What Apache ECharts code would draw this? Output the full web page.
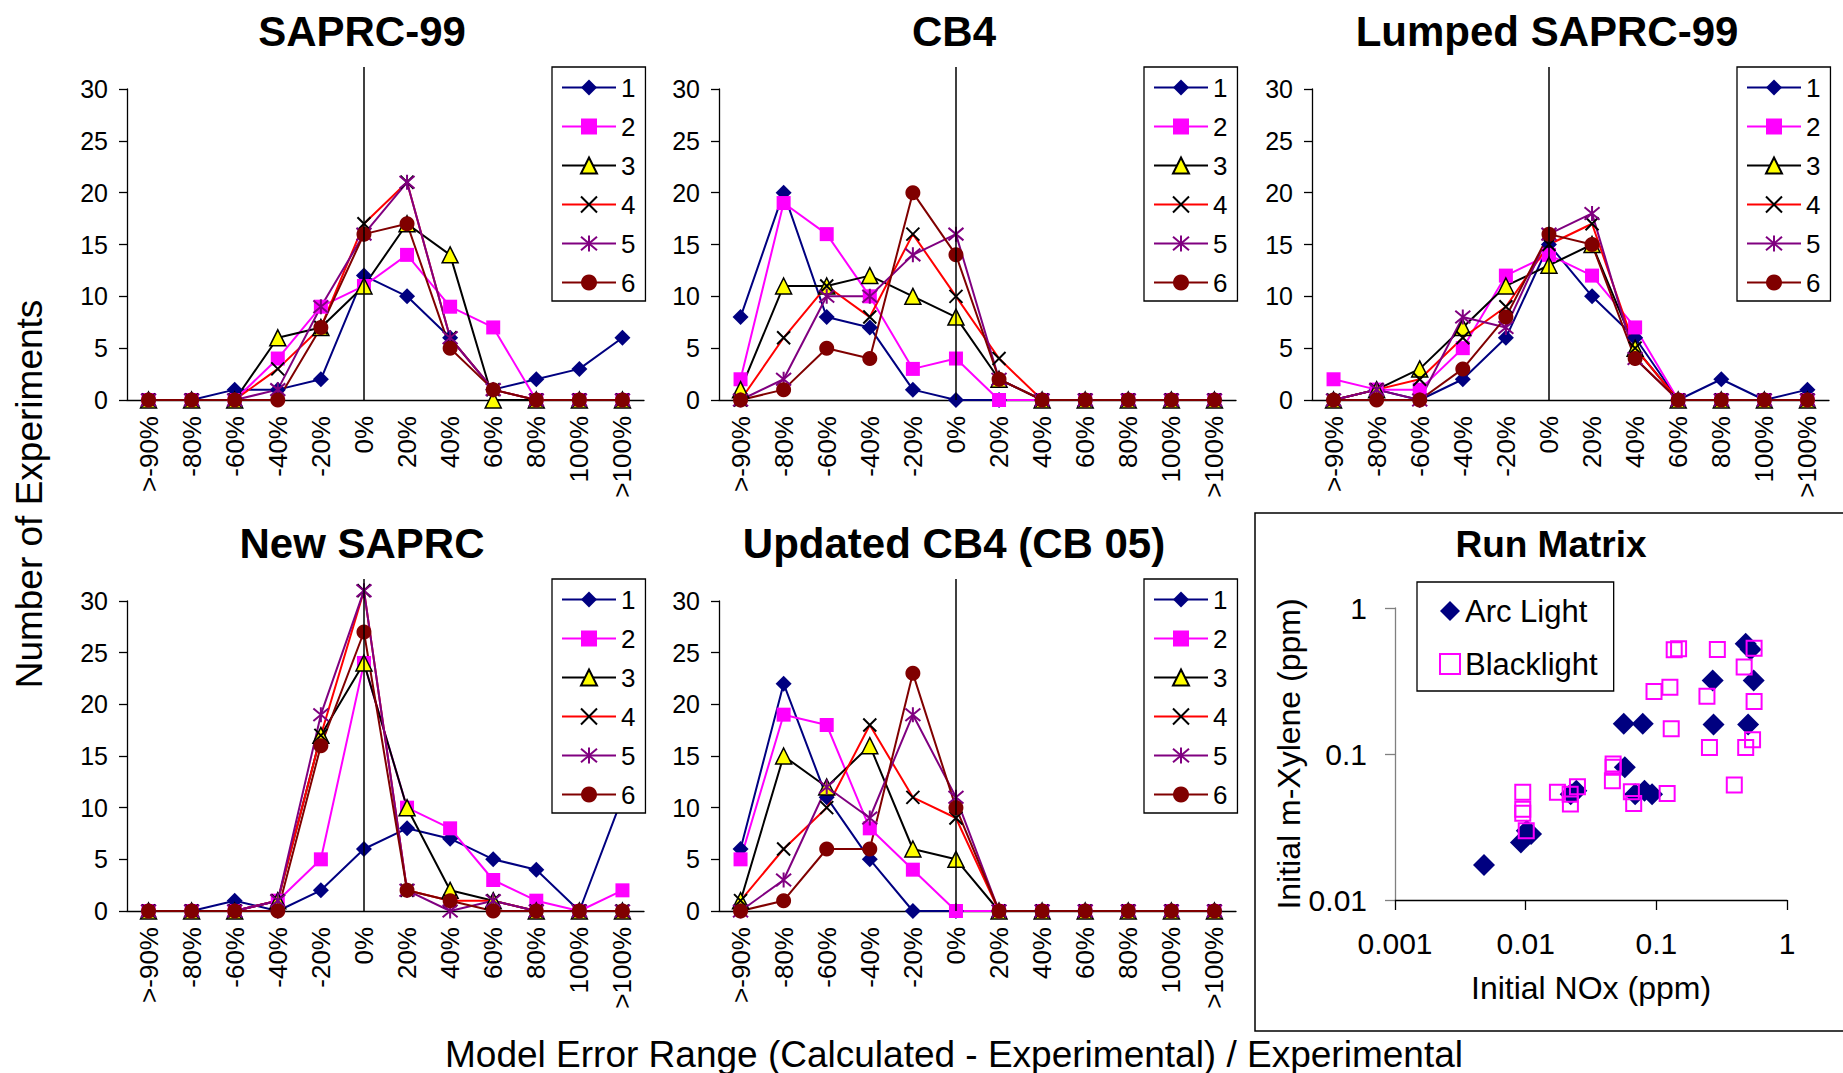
<!DOCTYPE html>
<html>
<head>
<meta charset="utf-8">
<script src="https://cdn.jsdelivr.net/npm/echarts@6/dist/echarts.min.js"></script>
<style>
  html, body { margin: 0; padding: 0; background: #fff; }
  #main { width: 1843px; height: 1073px; }
</style>
</head>
<body>
<div id="main"></div>
<script>
  // error range bins
  var categories = ['>-90%', '-80%', '-60%', '-40%', '-20%', '0%', '20%', '40%', '60%', '80%', '100%', '>100%'];
  var seriesNames = ['1', '2', '3', '4', '5', '6'];

  // SAPRC-99
  var saprc99_1 = [0, 0, 1, 1, 2, 12, 10, 6, 1, 2, 3, 6];
  var saprc99_2 = [0, 0, 0, 4, 9, 11, 14, 9, 7, 0, 0, 0];
  var saprc99_3 = [0, 0, 0, 6, 7, 11, 17, 14, 0, 0, 0, 0];
  var saprc99_4 = [0, 0, 0, 3, 7, 17, 21, 6, 1, 0, 0, 0];
  var saprc99_5 = [0, 0, 0, 1, 9, 16, 21, 6, 1, 0, 0, 0];
  var saprc99_6 = [0, 0, 0, 0, 7, 16, 17, 5, 1, 0, 0, 0];

  // CB4
  var cb4_1 = [8, 20, 8, 7, 1, 0, 0, 0, 0, 0, 0, 0];
  var cb4_2 = [2, 19, 16, 10, 3, 4, 0, 0, 0, 0, 0, 0];
  var cb4_3 = [1, 11, 11, 12, 10, 8, 2, 0, 0, 0, 0, 0];
  var cb4_4 = [0, 6, 11, 8, 16, 10, 4, 0, 0, 0, 0, 0];
  var cb4_5 = [0, 2, 10, 10, 14, 16, 2, 0, 0, 0, 0, 0];
  var cb4_6 = [0, 1, 5, 4, 20, 14, 2, 0, 0, 0, 0, 0];

  // Lumped SAPRC-99
  var lumped_1 = [0, 1, 0, 2, 6, 15, 10, 6, 0, 2, 0, 1];
  var lumped_2 = [2, 1, 1, 5, 12, 14, 12, 7, 0, 0, 0, 0];
  var lumped_3 = [0, 1, 3, 7, 11, 13, 15, 5, 0, 0, 0, 0];
  var lumped_4 = [0, 1, 2, 6, 9, 15, 17, 5, 0, 0, 0, 0];
  var lumped_5 = [0, 1, 0, 8, 7, 16, 18, 4, 0, 0, 0, 0];
  var lumped_6 = [0, 0, 0, 3, 8, 16, 15, 4, 0, 0, 0, 0];

  // New SAPRC
  var newSaprc_1 = [0, 0, 1, 0, 2, 6, 8, 7, 5, 4, 0, 11];
  var newSaprc_2 = [0, 0, 0, 1, 5, 24, 10, 8, 3, 1, 0, 2];
  var newSaprc_3 = [0, 0, 0, 1, 17, 24, 10, 2, 1, 0, 0, 0];
  var newSaprc_4 = [0, 0, 0, 1, 17, 31, 2, 1, 1, 0, 0, 0];
  var newSaprc_5 = [0, 0, 0, 1, 19, 31, 2, 0, 1, 0, 0, 0];
  var newSaprc_6 = [0, 0, 0, 0, 16, 27, 2, 1, 0, 0, 0, 0];

  // Updated CB4 (CB 05)
  var cb05_1 = [6, 22, 11, 5, 0, 0, 0, 0, 0, 0, 0, 0];
  var cb05_2 = [5, 19, 18, 8, 4, 0, 0, 0, 0, 0, 0, 0];
  var cb05_3 = [1, 15, 12, 16, 6, 5, 0, 0, 0, 0, 0, 0];
  var cb05_4 = [1, 6, 10, 18, 11, 9, 0, 0, 0, 0, 0, 0];
  var cb05_5 = [0, 3, 12, 9, 19, 11, 0, 0, 0, 0, 0, 0];
  var cb05_6 = [0, 1, 6, 6, 23, 10, 0, 0, 0, 0, 0, 0];

  // run matrix [initial NOx, initial m-xylene] (ppm)
  var arcLight = [[0.0048, 0.0174], [0.0092, 0.0248], [0.011, 0.0283], [0.0102, 0.0298], [0.0221, 0.0531],
    [0.0244, 0.056], [0.0563, 0.161], [0.0787, 0.161], [0.0574, 0.081], [0.0688, 0.0531], [0.0812, 0.056],
    [0.0928, 0.0531], [0.27, 0.319], [0.274, 0.159], [0.483, 0.569], [0.526, 0.52], [0.556, 0.319], [0.504, 0.159]];
  var blacklight = [[0.0095, 0.0546], [0.0095, 0.0419], [0.0095, 0.0393], [0.0101, 0.0298], [0.0175, 0.0546],
    [0.0219, 0.0531], [0.022, 0.0454], [0.0249, 0.0597], [0.0467, 0.0854], [0.0461, 0.0656], [0.0467, 0.081],
    [0.0644, 0.0551], [0.0671, 0.0459], [0.121, 0.0536], [0.096, 0.268], [0.127, 0.287], [0.137, 0.518],
    [0.148, 0.526], [0.13, 0.149], [0.293, 0.52], [0.244, 0.249], [0.255, 0.111], [0.395, 0.0613],
    [0.47, 0.394], [0.56, 0.53], [0.56, 0.229], [0.545, 0.125], [0.483, 0.111]];

  var panels = [
    {title: 'SAPRC-99', data: [saprc99_1, saprc99_2, saprc99_3, saprc99_4, saprc99_5, saprc99_6]},
    {title: 'CB4', data: [cb4_1, cb4_2, cb4_3, cb4_4, cb4_5, cb4_6]},
    {title: 'Lumped SAPRC-99', data: [lumped_1, lumped_2, lumped_3, lumped_4, lumped_5, lumped_6]},
    {title: 'New SAPRC', data: [newSaprc_1, newSaprc_2, newSaprc_3, newSaprc_4, newSaprc_5, newSaprc_6]},
    {title: 'Updated CB4 (CB 05)', data: [cb05_1, cb05_2, cb05_3, cb05_4, cb05_5, cb05_6]}
  ];

  // grid boxes of the five line panels
  var boxes = [
    {left: 127, top: 89, width: 517, height: 311},
    {left: 719, top: 89, width: 517, height: 311},
    {left: 1312, top: 89, width: 517, height: 311},
    {left: 127, top: 601, width: 517, height: 310},
    {left: 719, top: 601, width: 517, height: 310}
  ];

  var FONT = 'Liberation Sans, Arial, sans-serif';
  var xMark = 'path://M0,0L10,10M10,0L0,10';
  var starMark = 'path://M0,0L10,10M10,0L0,10M5,-1L5,11';

  var styles = [
    {symbol: 'diamond', size: 16, item: {color: '#000080'}, line: '#000080'},
    {symbol: 'rect', size: 14, item: {color: '#FF00FF'}, line: '#FF00FF'},
    {symbol: 'triangle', size: 16, item: {color: '#FFFF00', borderColor: '#000', borderWidth: 1.5}, line: '#000'},
    {symbol: xMark, size: 13, item: {color: '#000', borderColor: '#000', borderWidth: 2}, line: '#FF0000'},
    {symbol: starMark, size: 15, item: {color: '#800080', borderColor: '#800080', borderWidth: 2}, line: '#800080'},
    {symbol: 'circle', size: 15, item: {color: '#800000'}, line: '#800000'}
  ];

  var grid = [], xAxis = [], yAxis = [], series = [], legend = [], title = [];

  panels.forEach(function (p, k) {
    var b = boxes[k];
    grid.push({left: b.left, top: b.top, width: b.width, height: b.height});
    xAxis.push({
      type: 'category', gridIndex: k, data: categories, boundaryGap: true,
      axisLine: {lineStyle: {color: '#000', width: 1.3}},
      axisTick: {length: 8, lineStyle: {color: '#000', width: 1.3}},
      axisLabel: {rotate: 90, interval: 0, fontSize: 26, margin: 16, color: '#000', fontFamily: FONT}
    });
    yAxis.push({
      type: 'value', gridIndex: k, min: 0, max: 30, interval: 5,
      axisLine: {show: true, lineStyle: {color: '#000', width: 1.3}},
      axisTick: {show: true, length: 8, lineStyle: {color: '#000', width: 1.3}},
      splitLine: {show: false},
      axisLabel: {fontSize: 25, margin: 19, color: '#000', fontFamily: FONT}
    });
    p.data.forEach(function (vals, i) {
      var s = styles[i];
      series.push({
        name: seriesNames[i], type: 'line', xAxisIndex: k, yAxisIndex: k,
        data: vals, clip: false, symbol: s.symbol, symbolSize: s.size,
        itemStyle: s.item, lineStyle: {color: s.line, width: 2},
        animation: false, z: 3
      });
    });
    legend.push({
      orient: 'vertical', left: b.left + 425, top: b.top - 22,
      data: seriesNames, itemWidth: 54, itemHeight: 20, itemGap: 12,
      padding: [7, 10, 5, 9], backgroundColor: '#fff', borderColor: '#000', borderWidth: 1.3,
      textStyle: {fontSize: 26, color: '#000', fontFamily: FONT, lineHeight: 27},
      selectedMode: false, z: 10
    });
    title.push({
      text: p.title, left: b.left + 235, top: b.top - 79, textAlign: 'center', padding: 0,
      textStyle: {fontSize: 42, fontWeight: 'bold', color: '#000', fontFamily: FONT}
    });
  });

  // overlay grids carrying the 0% reference line, a bit taller than the panels
  boxes.forEach(function (b, k) {
    var gi = panels.length + k;
    grid.push({left: b.left, top: b.top - 22, width: b.width, height: b.height + 22});
    xAxis.push({type: 'category', gridIndex: gi, data: categories, boundaryGap: true, show: false});
    yAxis.push({type: 'value', gridIndex: gi, min: 0, max: 1, show: false});
    series.push({
      name: 'zero', type: 'line', xAxisIndex: gi, yAxisIndex: gi, data: [], animation: false,
      markLine: {
        silent: true, symbol: 'none', label: {show: false}, animation: false,
        lineStyle: {color: '#000', width: 1.5, type: 'solid'},
        data: [{xAxis: '0%'}]
      }
    });
  });

  // run matrix scatter
  var sg = grid.length;
  grid.push({left: 1395, top: 608, width: 392, height: 292});
  xAxis.push({
    type: 'log', logBase: 10, gridIndex: sg, min: 0.001, max: 1,
    name: 'Initial NOx (ppm)', nameLocation: 'middle', nameGap: 72,
    nameTextStyle: {fontSize: 32, color: '#000', fontFamily: FONT},
    axisLine: {lineStyle: {color: '#000', width: 1.3}},
    axisTick: {length: 10, lineStyle: {color: '#000', width: 1.3}},
    splitLine: {show: false},
    axisLabel: {fontSize: 30, margin: 28, color: '#000', fontFamily: FONT}
  });
  yAxis.push({
    type: 'log', logBase: 10, gridIndex: sg, min: 0.01, max: 1,
    name: 'Initial m-Xylene (ppm)', nameLocation: 'middle', nameGap: 86,
    nameTextStyle: {fontSize: 32, color: '#000', fontFamily: FONT},
    axisLine: {show: true, lineStyle: {color: '#808080', width: 1.3}},
    axisTick: {show: true, length: 10, lineStyle: {color: '#808080', width: 1.3}},
    splitLine: {show: false},
    axisLabel: {fontSize: 30, margin: 28, color: '#000', fontFamily: FONT}
  });
  series.push({
    name: 'Arc Light', type: 'scatter', xAxisIndex: sg, yAxisIndex: sg, data: arcLight,
    symbol: 'diamond', symbolSize: 22, itemStyle: {color: '#000080', opacity: 1}, animation: false
  });
  series.push({
    name: 'Blacklight', type: 'scatter', xAxisIndex: sg, yAxisIndex: sg, data: blacklight,
    symbol: 'rect', symbolSize: 15,
    itemStyle: {color: 'rgba(0,0,0,0)', borderColor: '#FF00FF', borderWidth: 2, opacity: 1}, animation: false
  });
  legend.push({
    orient: 'vertical', left: 1417, top: 582, data: ['Arc Light', 'Blacklight'],
    itemWidth: 20, itemHeight: 20, itemGap: 21, padding: [13, 16, 11, 22],
    borderColor: '#000', borderWidth: 1.3, backgroundColor: '#fff', selectedMode: false,
    textStyle: {fontSize: 31, color: '#000', fontFamily: FONT, lineHeight: 32}
  });
  title.push({
    text: 'Run Matrix', left: 1551, top: 526, textAlign: 'center', padding: 0,
    textStyle: {fontSize: 37, fontWeight: 'bold', color: '#000', fontFamily: FONT}
  });

  var chart = echarts.init(document.getElementById('main'), null, {renderer: 'svg'});
  chart.setOption({
    backgroundColor: '#fff',
    animation: false,
    title: title,
    legend: legend,
    grid: grid,
    xAxis: xAxis,
    yAxis: yAxis,
    series: series,
    graphic: [
      {type: 'rect', shape: {x: 1255, y: 513, width: 640, height: 518},
        style: {fill: 'none', stroke: '#000', lineWidth: 1.5}, silent: true},
      {type: 'text', x: 29, y: 494, rotation: Math.PI / 2,
        style: {text: 'Number of Experiments', fontSize: 37, fontFamily: FONT, fill: '#000',
          textAlign: 'center', textVerticalAlign: 'middle'}},
      {type: 'text', x: 954, y: 1054,
        style: {text: 'Model Error Range (Calculated - Experimental) / Experimental', fontSize: 37,
          fontFamily: FONT, fill: '#000', textAlign: 'center', textVerticalAlign: 'middle'}}
    ]
  });
</script>
</body>
</html>
